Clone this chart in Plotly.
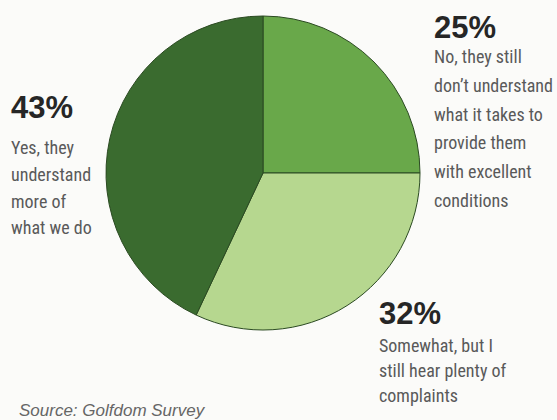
import plotly.graph_objects as go

labels = ["No, they still don't understand", "Somewhat, but I still hear plenty of complaints", "Yes, they understand more of what we do"]
values = [25, 32, 43]
colors = ["#69a84a", "#b6d78f", "#3a6b2f"]

pct_texts = ["25%", "32%", "43%"]
body_lines = [
    ["No, they still", "don\u2019t understand", "what it takes to", "provide them", "with excellent", "conditions"],
    ["Somewhat, but I", "still hear plenty of", "complaints"],
    ["Yes, they", "understand", "more of", "what we do"],
]
source_text = "Source: Golfdom Survey"

W, H = 557, 420
# layout anchors (pixels): pct position (x, y center), first body line y center, line spacing
blocks = [
    dict(x=432, py=28, by=57, dy=28.6),
    dict(x=377, py=313, by=345, dy=25),
    dict(x=9, py=108, by=147, dy=27),
]

narrow = "Roboto Condensed, DejaVu Sans Condensed, sans-serif"
bold = "Liberation Sans, Arial, sans-serif"

fig = go.Figure(go.Pie(
    labels=labels, values=values, sort=False, direction="clockwise", rotation=0,
    marker=dict(colors=colors, line=dict(color="#2b4a22", width=1)),
    textinfo="none", hoverinfo="label+percent", showlegend=False,
    domain=dict(x=[106 / W, 420 / W], y=[1 - 330 / H, 1 - 16 / H]),
))

anns = []
for pct, lines, b in zip(pct_texts, body_lines, blocks):
    anns.append(dict(x=b["x"] / W, y=1 - b["py"] / H, xref="paper", yref="paper",
                     xanchor="left", yanchor="middle", showarrow=False, text=f"<b>{pct}</b>",
                     font=dict(family=bold, size=31, color="#262626")))
    for i, ln in enumerate(lines):
        anns.append(dict(x=b["x"] / W, y=1 - (b["by"] + i * b["dy"]) / H, xref="paper", yref="paper",
                         xanchor="left", yanchor="middle", showarrow=False, text=ln,
                         font=dict(family=narrow, size=18, color="#595959")))
anns.append(dict(x=17 / W, y=1 - 410 / H, xref="paper", yref="paper", xanchor="left", yanchor="middle",
                 showarrow=False, text=f"<i>{source_text}</i>",
                 font=dict(family="Liberation Sans, Arial, sans-serif", size=17, color="#666666")))

fig.update_layout(width=W, height=H, margin=dict(l=0, r=0, t=0, b=0),
                  paper_bgcolor="#fbfbf9", plot_bgcolor="#fbfbf9", annotations=anns)
fig.write_html("out.html")
